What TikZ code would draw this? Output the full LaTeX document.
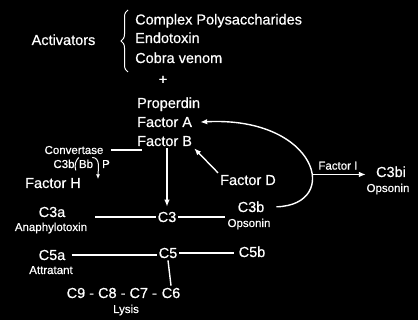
\documentclass[tikz,border=0pt]{standalone}
\usepackage{fontspec}
\setmainfont{Liberation Sans}[FakeBold=0.5]
\usetikzlibrary{arrows.meta,decorations.pathreplacing}
\begin{document}
\begin{tikzpicture}[x=1pt,y=-1pt,
    >={Latex[length=7pt,width=5.5pt]},
    every node/.style={text=white,inner sep=2pt},
    big/.style={font=\fontsize{14.5}{17}\selectfont},
    lab/.style={font=\fontsize{11.5}{13}\selectfont},
    wire/.style={draw=white,line width=1.4pt}]
  \fill[black] (0,0) rectangle (418,320);
  % activators
  \node[big,anchor=base] (activ) at (63.5,45) {Activators};
  \node[big,anchor=base west] (complex) at (133,24.5) {Complex Polysaccharides};
  \node[big,anchor=base west] (endo) at (133,43) {Endotoxin};
  \node[big,anchor=base west] (cobra) at (133,63) {Cobra venom};
  \draw[white,line width=1pt,decorate,decoration={brace,amplitude=7pt}] (128,72) -- (128,10);
  \node[big] (plus) at (163,80) {+};
  \node[big,anchor=base west] (properdin) at (135,108) {Properdin};
  \node[big,anchor=base west] (factora) at (135,127) {Factor A};
  \node[big,anchor=base west] (factorb) at (135,146) {Factor B};
  % convertase
  \node[lab,anchor=base] (convertase) at (74,154) {Convertase};
  \node[lab,anchor=base] (c3bconv) at (64,168) {C3b};
  \node[lab,anchor=base] (bb) at (86,168) {Bb};
  \node[lab,anchor=base] (p) at (106,168) {P};
  \coordinate (bbout) at (98,179);
  \node[big,anchor=base] (factorh) at (53,188) {Factor H};
  \node[big,anchor=base] (factord) at (248,185) {Factor D};
  % C3 and C5
  \node[big,anchor=base] (c3) at (167,222) {C3};
  \node[big,anchor=base] (c3a) at (52,217) {C3a};
  \node[lab,anchor=base] (c3aop) at (51,231) {Anaphylotoxin};
  \node[big,anchor=base] (c3b) at (251,212) {C3b};
  \node[lab,anchor=base] (c3bop) at (249,227) {Opsonin};
  \node[big,anchor=base] (c3bi) at (391,177) {C3bi};
  \node[lab,anchor=base] (c3biop) at (388,192) {Opsonin};
  \node[big,anchor=base] (c5) at (168,258) {C5};
  \node[big,anchor=base] (c5a) at (52,260) {C5a};
  \node[lab,anchor=base] (attr) at (51,274) {Attratant};
  \node[big,anchor=base] (c5b) at (252,257) {C5b};
  \node[big,anchor=base] (c6) at (171,298) {C6};
  \node[big,anchor=base east,inner sep=0pt] (chain) at (c6.base west) {C9 - C8 - C7 -\,};
  \node[lab,anchor=base] (lysis) at (126,313) {Lysis};
  % connectors
  \draw[wire,shorten <=5pt,shorten >=-7pt] (convertase.east) -- (convertase.east -| factorb.west);
  \draw[white,line width=1pt] ([xshift=2pt]bb.north west) to[bend right=30] ([xshift=-1pt]bb.south west);
  \draw[white,line width=1pt,-{Latex[length=4.5pt,width=4pt]}] ([xshift=-3pt]bb.north east) to[out=0,in=90] (bbout);
  \draw[wire,->,shorten >=3pt] (factorb.south -| c3.north) -- (c3.north);
  \draw[wire,->] (factord.north west) -- (factorb.south east);
  \draw[wire,->] ([xshift=10pt]c3b.east) .. controls (342,205) and (318,116) .. coordinate[pos=0.4] (split) ([xshift=6pt]factora.east);
  \draw[wire,->,shorten >=8pt] (split) -- (split -| c3bi.west) node[lab,above=2pt,pos=0.42] (factori) {Factor I};
  \draw[wire,shorten <=6pt] (c3aop.east |- c3) -- (c3.west);
  \draw[wire] (c3.east) -- (c3 -| c3bop.west);
  \draw[wire,shorten <=4pt] (c5a.east) -- (c5a.east -| c5.west);
  \draw[wire,shorten >=3pt] (c5.east) -- (c5.east -| c5b.west);
  \draw[wire] (c5.south) -- (c6.north);
\end{tikzpicture}
\end{document}
